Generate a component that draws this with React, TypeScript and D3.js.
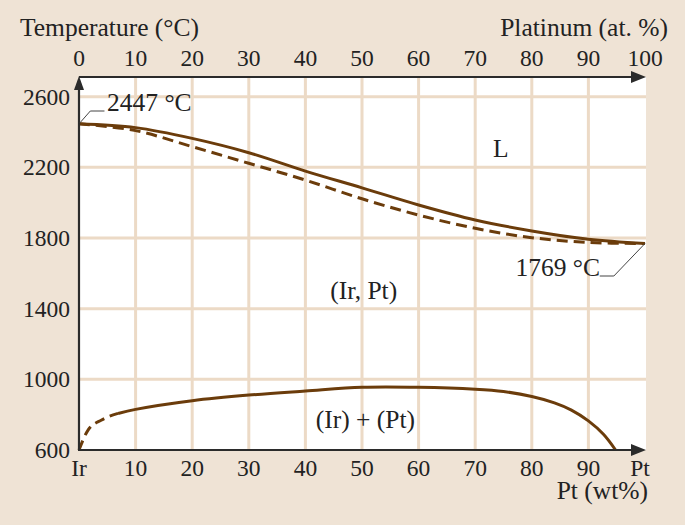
import React from "react";
import * as d3 from "d3";

// Pt content, % (top: at.%, bottom: wt%) and temperature, °C
const xTicks = [0, 10, 20, 30, 40, 50, 60, 70, 80, 90, 100];
const bottomLabels = ["Ir", "10", "20", "30", "40", "50", "60", "70", "80", "90", "Pt"];
const yTicks = [600, 1000, 1400, 1800, 2200, 2600];

const liquidusX = [0, 10, 20, 30, 40, 50, 60, 70, 80, 90, 100];
const liquidusT = [2447, 2425, 2364, 2283, 2179, 2084, 1987, 1902, 1840, 1793, 1769];

const solidusX = [0, 10, 20, 30, 40, 50, 60, 70, 80, 90, 100];
const solidusT = [2447, 2408, 2317, 2223, 2128, 2022, 1930, 1855, 1802, 1775, 1769];

const gapDashedX = [0, 1.6, 4, 6.9];
const gapDashedT = [600, 713, 770, 807];
const gapX = [6.9, 10, 20, 30, 40, 50, 60, 70, 75, 80, 84, 87, 90, 92.7, 94.8];
const gapT = [807, 830, 879, 911, 934, 955, 955, 944, 931, 903, 867, 826, 765, 688, 600];

const W = 685;
const H = 525;
const FONT = "'Liberation Serif', 'Times New Roman', serif";
const BG = "#efe3d5";
const GRID = "#ecdac6";
const CURVE = "#6b3c0b";
const AXIS = "#2b2b2b";

const App: React.FC = () => {
	const x = d3.scaleLinear().domain([0, 100]).range([79, 645]);
	const y = d3.scaleLinear().domain([600, 2600]).range([450, 96.7]);
	const top = 77;

	const line = d3
		.line<[number, number]>()
		.x((d) => x(d[0]))
		.y((d) => y(d[1]))
		.curve(d3.curveMonotoneX);

	const smooth = d3
		.line<[number, number]>()
		.x((d) => x(d[0]))
		.y((d) => y(d[1]))
		.curve(d3.curveCatmullRom.alpha(0.5));

	const zip = (xs: number[], ts: number[]) => xs.map((v, i) => [v, ts[i]] as [number, number]);

	const fs = 23.5; // numbers
	const ft = 25.5; // words

	return (
		<svg width={W} height={H} style={{position: "absolute", left: 0, top: 0}} fontFamily={FONT}>
			<rect x={0} y={0} width={W} height={H} fill={BG} />
			<rect x={x(0)} y={top} width={x(100) + 1 - x(0)} height={y(600) - top} fill="#fff" />

			{/* grid */}
			{xTicks.slice(1, -1).map((t) => (
				<line key={"gx" + t} x1={x(t)} x2={x(t)} y1={top} y2={y(600)} stroke={GRID} strokeWidth={3} />
			))}
			{yTicks.slice(1).map((t) => (
				<line key={"gy" + t} x1={x(0)} x2={x(100) + 1} y1={y(t)} y2={y(t)} stroke={GRID} strokeWidth={3} />
			))}

			{/* curves */}
			<path d={smooth(zip(liquidusX, liquidusT)) || ""} fill="none" stroke={CURVE} strokeWidth={3} />
			<path
				d={smooth(zip(solidusX, solidusT)) || ""}
				fill="none"
				stroke={CURVE}
				strokeWidth={3}
				strokeDasharray="11 6"
			/>
			<path
				d={line(zip(gapDashedX, gapDashedT)) || ""}
				fill="none"
				stroke={CURVE}
				strokeWidth={3}
				strokeDasharray="10 6"
			/>
			<path d={smooth(zip(gapX, gapT)) || ""} fill="none" stroke={CURVE} strokeWidth={3} />

			{/* axes */}
			<line x1={x(0)} x2={x(0)} y1={y(600)} y2={top + 10} stroke={AXIS} strokeWidth={2.2} />
			<path d={`M${x(0)},${top - 1} L${x(0) - 5},${top + 13} L${x(0) + 5},${top + 13} Z`} fill={AXIS} />
			<line x1={x(0)} x2={x(100) - 10} y1={top} y2={top} stroke={AXIS} strokeWidth={2.2} />
			<path d={`M${x(100) + 1},${top} L${x(100) - 14},${top - 6} L${x(100) - 14},${top + 6} Z`} fill={AXIS} />
			<line x1={x(0) - 1} x2={x(100) - 10} y1={y(600)} y2={y(600)} stroke={AXIS} strokeWidth={2.2} />
			<path
				d={`M${x(100) + 1},${y(600)} L${x(100) - 14},${y(600) - 6} L${x(100) - 14},${y(600) + 6} Z`}
				fill={AXIS}
			/>

			{/* tick labels */}
			<g fontSize={fs} fill="#222">
				{xTicks.map((t) => (
					<text key={"tt" + t} x={x(t)} y={66} textAnchor="middle">
						{t}
					</text>
				))}
				{xTicks.map((t, i) => (
					<text key={"bt" + t} x={x(t) - (t === 100 ? 5 : 0)} y={476} textAnchor="middle">
						{bottomLabels[i]}
					</text>
				))}
				{yTicks.map((t) => (
					<text key={"yt" + t} x={70} y={y(t) + 8} textAnchor="end">
						{t}
					</text>
				))}
			</g>
			<g fontSize={ft} fill="#222">
				<text x={20} y={36}>
					Temperature (°C)
				</text>
				<text x={668} y={36} textAnchor="end">
					Platinum (at. %)
				</text>
				<text x={648} y={499} textAnchor="end">
					Pt (wt%)
				</text>

				{/* region labels */}
				<text x={x(74.5)} y={157} textAnchor="middle">
					L
				</text>
				<text x={x(50.3)} y={299} textAnchor="middle">
					(Ir, Pt)
				</text>
				<text x={x(50.6)} y={428} textAnchor="middle">
					(Ir) + (Pt)
				</text>

				{/* melting point labels */}
				<text x={107} y={111}>
					2447 °C
				</text>
				<text x={600} y={276} textAnchor="end">
					1769 °C
				</text>
			</g>
			<polyline
				points={`${x(0) + 1},${y(2447) - 1} ${x(2)},${111} ${x(4.5)},${111}`}
				fill="none"
				stroke="#444"
				strokeWidth={1}
			/>
			<polyline
				points={`${x(100)},${y(1769)} ${x(94.5)},${276} ${x(92)},${276}`}
				fill="none"
				stroke="#444"
				strokeWidth={1}
			/>
		</svg>
	);
};

export default App;
